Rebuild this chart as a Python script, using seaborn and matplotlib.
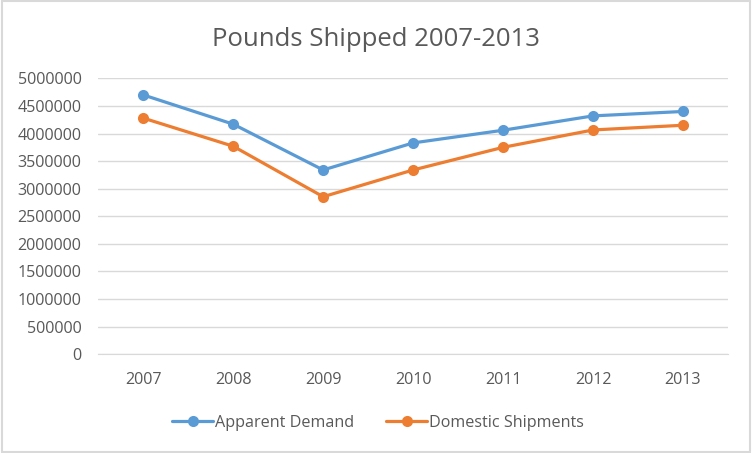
import pandas as pd
import matplotlib.pyplot as plt
plt.switch_backend('agg')
import matplotlib.ticker as mticker
from matplotlib.patches import Rectangle
import seaborn as sns

years = ['2007', '2008', '2009', '2010', '2011', '2012', '2013']
apparent_demand = [4700000, 4170000, 3340000, 3830000, 4060000, 4320000, 4400000]
domestic_shipments = [4280000, 3770000, 2855000, 3340000, 3750000, 4065000, 4150000]
series_names = ['Apparent Demand', 'Domestic Shipments']

df = pd.DataFrame({
    'Year': years * 2,
    'Pounds': apparent_demand + domestic_shipments,
    'Series': [series_names[0]] * len(years) + [series_names[1]] * len(years),
})

sns.set_style('white')
plt.rcParams['font.family'] = ['Open Sans', 'DejaVu Sans']
text_color = '#595959'
grid_color = '#D9D9D9'

fig = plt.figure(figsize=(7.52, 4.53), dpi=100)
ax = fig.add_axes([0.1307, 0.218, 0.968 - 0.1307, 0.827 - 0.218])

sns.lineplot(data=df, x='Year', y='Pounds', hue='Series', ax=ax,
             palette=['#5B9BD5', '#ED7D31'], marker='o', markersize=8,
             markeredgewidth=0, linewidth=2.3, sort=False, legend=True)

ax.set_xlim(-0.5, len(years) - 0.5)
ax.set_ylim(0, 5000000)
ax.yaxis.set_major_locator(mticker.MultipleLocator(500000))
ax.yaxis.set_major_formatter(mticker.FuncFormatter(lambda v, p: '%d' % v))
ax.grid(axis='y', color=grid_color, linewidth=1)
ax.set_axisbelow(True)
for s in ['left', 'right', 'top']:
    ax.spines[s].set_visible(False)
ax.spines['bottom'].set_color(grid_color)
ax.tick_params(axis='both', length=0, colors=text_color, labelsize=11.6)
ax.tick_params(axis='y', pad=12)
ax.tick_params(axis='x', pad=13)
ax.set_xlabel('')
ax.set_ylabel('')

handles, labels = ax.get_legend_handles_labels()
ax.get_legend().remove()
fig.legend(handles, labels, loc='center', bbox_to_anchor=(0.503, 0.067), ncol=2,
           frameon=False, fontsize=11.6, labelcolor=text_color, handlelength=2.5,
           handletextpad=0.15, columnspacing=2.0)

fig.text(0.5, 0.913, 'Pounds Shipped 2007-2013', ha='center', va='center',
         fontsize=18.5, color=text_color)

fig.patches.append(Rectangle((0.002, 0.003), 0.996, 0.994, transform=fig.transFigure,
                             fill=False, edgecolor=grid_color, linewidth=1.5))

fig.savefig('out.png', dpi=100)
plt.close(fig)
